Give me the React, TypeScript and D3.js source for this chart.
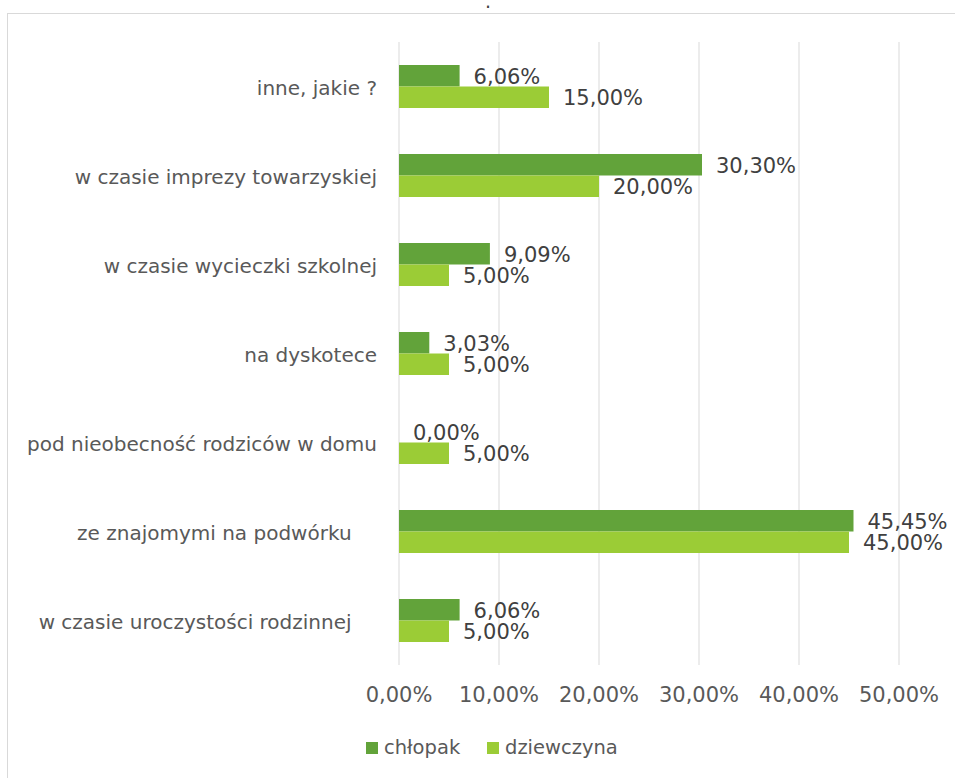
import React from "react";
import * as d3 from "d3";

const categories = [
  "inne, jakie ?",
  "w czasie imprezy towarzyskiej",
  "w czasie wycieczki szkolnej",
  "na dyskotece",
  "pod nieobecność rodziców w domu",
  "ze znajomymi na podwórku    ",
  "w czasie uroczystości rodzinnej    ",
];
const seriesNames = ["chłopak", "dziewczyna"];
const chlopak = [6.06, 30.3, 9.09, 3.03, 0.0, 45.45, 6.06];
const dziewczyna = [15.0, 20.0, 5.0, 5.0, 5.0, 45.0, 5.0];
const xTicks = [0, 10, 20, 30, 40, 50];
const colors = ["#62A33A", "#9BCC36"];
const title = ".";

const fmt = (v: number) => v.toFixed(2).replace(".", ",") + "%";

export default function App() {
  const W = 955;
  const H = 778;
  const x = d3.scaleLinear().domain([0, 50]).range([399, 899]);
  const y = d3
    .scaleBand<string>()
    .domain(categories)
    .range([42, 665])
    .paddingInner(0.517)
    .paddingOuter(0.2585);
  const inner = d3
    .scaleBand<string>()
    .domain(seriesNames)
    .range([0, y.bandwidth()]);
  const series = [chlopak, dziewczyna];
  const font = "'DejaVu Sans', sans-serif";

  return (
    <svg
      width={W}
      height={H}
      style={{ position: "absolute", left: 0, top: 0, background: "#fff" }}
      fontFamily={font}
    >
      <rect x={7.5} y={13.5} width={1000} height={1000} fill="none" stroke="#d9d9d9" strokeWidth={1} />
      <text x={488} y={8} textAnchor="middle" fontSize={19} fill="#404040">
        {title}
      </text>
      {xTicks.map((t) => (
        <line key={"g" + t} x1={x(t)} x2={x(t)} y1={42} y2={665} stroke="#d9d9d9" strokeWidth={1} />
      ))}
      {categories.map((c, i) => (
        <g key={c}>
          {series.map((s, j) => {
            const yy = (y(c) as number) + (inner(seriesNames[j]) as number);
            const h = inner.bandwidth();
            return (
              <g key={j}>
                <rect x={x(0)} y={yy} width={x(s[i]) - x(0)} height={h} fill={colors[j]} />
                <text
                  x={x(s[i]) + 14}
                  y={yy + h / 2 + 1}
                  dominantBaseline="central"
                  fontSize={21}
                  fill="#404040"
                >
                  {fmt(s[i])}
                </text>
              </g>
            );
          })}
          <text
            x={377}
            y={(y(c) as number) + y.bandwidth() / 2 + 1}
            textAnchor="end"
            dominantBaseline="central"
            fontSize={20}
            fill="#595959"
            style={{ whiteSpace: "pre" }}
          >
            {c}
          </text>
        </g>
      ))}
      {xTicks.map((t) => (
        <text key={"t" + t} x={x(t)} y={702} textAnchor="middle" fontSize={21} fill="#595959">
          {fmt(t)}
        </text>
      ))}
      {seriesNames.map((n, j) => {
        const lx = j === 0 ? 366 : 487;
        return (
          <g key={n}>
            <rect x={lx} y={742} width={12} height={12} fill={colors[j]} />
            <text x={lx + 18} y={754} fontSize={19.5} fill="#595959">
              {n}
            </text>
          </g>
        );
      })}
    </svg>
  );
}
